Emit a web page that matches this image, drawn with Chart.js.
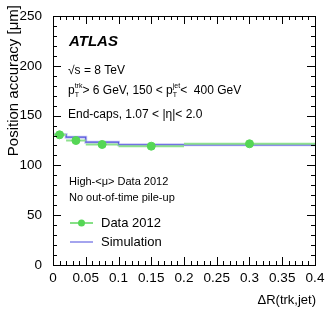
<!DOCTYPE html>
<html>
<head>
<meta charset="utf-8">
<script src="https://cdn.jsdelivr.net/npm/chart.js@4"></script>
<style>
html, body { margin: 0; padding: 0; background: #fff; }
#wrap { width: 332px; height: 316px; }
</style>
</head>
<body>
<div id="wrap"><canvas id="atlasChart" width="332" height="316"></canvas></div>
<script>
// bin edges in dR(trk,jet)
const binEdges = [0, 0.02, 0.05, 0.1, 0.2, 0.4];
const dataValues = [130.7, 125, 121, 119.3, 121.7];
const simValues = [133.3, 131, 128.3, 123.3, 120.7];
const xTicks = [0, 0.05, 0.1, 0.15, 0.2, 0.25, 0.3, 0.35, 0.4];
const yTicks = [0, 50, 100, 150, 200, 250];

const FONT = "'Liberation Sans', Arial, sans-serif";

// step line for simulation
const simPoints = binEdges.map((e, i) => ({ x: e, y: simValues[Math.min(i, simValues.length - 1)] }));
// horizontal bars for data (gaps between bins)
const dataBars = [];
dataValues.forEach((v, i) => {
	dataBars.push({ x: binEdges[i], y: v });
	dataBars.push({ x: binEdges[i + 1], y: v });
	dataBars.push({ x: binEdges[i + 1], y: null });
});
const dataPoints = dataValues.map((v, i) => ({ x: (binEdges[i] + binEdges[i + 1]) / 2, y: v }));

// ROOT style ticks, inside, on all four sides
const innerTicks = {
	id: "innerTicks",
	afterDraw(chart) {
		const { ctx, chartArea: { top, bottom, left, right }, scales: { x, y } } = chart;
		ctx.save();
		ctx.strokeStyle = "#000";
		ctx.lineWidth = 1;
		ctx.beginPath();
		for (let i = 0; i <= 40; i++) {
			const px = Math.round(x.getPixelForValue(i * 0.01)) + 0.5;
			const len = i % 5 === 0 ? 8 : 4;
			ctx.moveTo(px, bottom); ctx.lineTo(px, bottom - len);
			ctx.moveTo(px, top); ctx.lineTo(px, top + len);
		}
		for (let i = 0; i <= 25; i++) {
			const py = Math.round(y.getPixelForValue(i * 10)) + 0.5;
			const len = i % 5 === 0 ? 8 : 4;
			ctx.moveTo(left, py); ctx.lineTo(left + len, py);
			ctx.moveTo(right, py); ctx.lineTo(right - len, py);
		}
		ctx.stroke();
		ctx.strokeRect(left + 0.5, top + 0.5, right - left, bottom - top);
		ctx.restore();
	},
};

// labels, legend and axis titles
const textLayer = {
	id: "textLayer",
	afterDraw(chart) {
		const { ctx } = chart;
		ctx.save();
		ctx.fillStyle = "#000";
		ctx.textBaseline = "middle";
		ctx.textAlign = "left";
		ctx.font = "italic bold 15px " + FONT;
		ctx.fillText("ATLAS", 69, 42);

		ctx.font = "12px " + FONT;
		ctx.fillText("\u221As = 8 TeV", 68, 71);
		// pT line with sub/superscripts
		let xx = 68;
		const sup = (main, up, dn) => {
			ctx.font = "12px " + FONT;
			ctx.fillText(main, xx, 91);
			xx += ctx.measureText(main).width;
			ctx.font = "7px " + FONT;
			ctx.fillText(up, xx, 86);
			ctx.fillText(dn, xx, 95);
			xx += Math.max(ctx.measureText(up).width, ctx.measureText(dn).width);
		};
		sup("p", "trk", "T");
		ctx.font = "12px " + FONT;
		ctx.fillText("> 6 GeV, 150 < ", xx, 91);
		xx += ctx.measureText("> 6 GeV, 150 < ").width;
		sup("p", "jet", "T");
		ctx.font = "12px " + FONT;
		ctx.fillText("<  400 GeV", xx, 91);

		ctx.fillText("End-caps, 1.07 < |\u03B7|< 2.0", 68, 115);

		ctx.font = "11px " + FONT;
		ctx.fillText("High-<\u03BC> Data 2012", 69, 182);
		ctx.fillText("No out-of-time pile-up", 69, 198);

		// legend
		ctx.lineWidth = 1.5;
		ctx.strokeStyle = "#5ed65e";
		ctx.beginPath(); ctx.moveTo(70, 223); ctx.lineTo(93, 223); ctx.stroke();
		ctx.fillStyle = "#55d655";
		ctx.beginPath(); ctx.arc(81.5, 223, 3.5, 0, Math.PI * 2); ctx.fill();
		ctx.strokeStyle = "#a4a4ee";
		ctx.lineWidth = 2;
		ctx.beginPath(); ctx.moveTo(70, 242); ctx.lineTo(93, 242); ctx.stroke();
		ctx.fillStyle = "#000";
		ctx.font = "13px " + FONT;
		ctx.fillText("Data 2012", 101, 223);
		ctx.fillText("Simulation", 101, 242);

		// axis titles
		ctx.font = "13px " + FONT;
		ctx.textAlign = "right";
		ctx.fillText("\u0394R(trk,jet)", 316, 300);
		ctx.font = "15px " + FONT;
		ctx.translate(14, 5);
		ctx.rotate(-Math.PI / 2);
		ctx.fillText("Position accuracy [\u03BCm]", 0, 0);
		ctx.restore();
	},
};

new Chart(document.getElementById("atlasChart"), {
	type: "line",
	data: {
		datasets: [
			{
				label: "Simulation band",
				data: simPoints,
				stepped: "after",
				borderColor: "#c8c8f4",
				borderWidth: 3,
				pointRadius: 0,
				fill: false,
				order: 4,
			},
			{
				label: "Simulation",
				data: simPoints,
				stepped: "after",
				borderColor: "#5555dd",
				borderWidth: 1.2,
				pointRadius: 0,
				fill: false,
				order: 3,
			},
			{
				label: "Data bars",
				data: dataBars,
				borderColor: "#8ee08e",
				borderWidth: 2,
				pointRadius: 0,
				spanGaps: false,
				fill: false,
				order: 2,
			},
			{
				label: "Data 2012",
				type: "scatter",
				data: dataPoints,
				backgroundColor: "#55d655",
				borderColor: "#55d655",
				pointRadius: 4,
				order: 1,
			},
		],
	},
	options: {
		responsive: false,
		animation: false,
		events: [],
		layout: { padding: { top: 16, right: 17, left: 0, bottom: 0 } },
		scales: {
			x: {
				type: "linear",
				min: 0,
				max: 0.4,
				grid: { display: false },
				border: { display: false },
				afterFit(scale) { scale.height = 51; },
				afterBuildTicks(scale) { scale.ticks = xTicks.map(v => ({ value: v })); },
				ticks: {
					color: "#000",
					font: { family: FONT, size: 13.5 },
					padding: -3,
					maxRotation: 0,
					callback: v => parseFloat(v.toFixed(2)).toString(),
				},
			},
			y: {
				min: 0,
				max: 250,
				grid: { display: false },
				border: { display: false },
				afterFit(scale) { scale.width = 53; },
				afterBuildTicks(scale) { scale.ticks = yTicks.map(v => ({ value: v })); },
				ticks: {
					color: "#000",
					font: { family: FONT, size: 13.5 },
					padding: 3,
				},
			},
		},
		plugins: {
			legend: { display: false },
			tooltip: { enabled: false },
		},
	},
	plugins: [innerTicks, textLayer],
});
</script>
</body>
</html>
